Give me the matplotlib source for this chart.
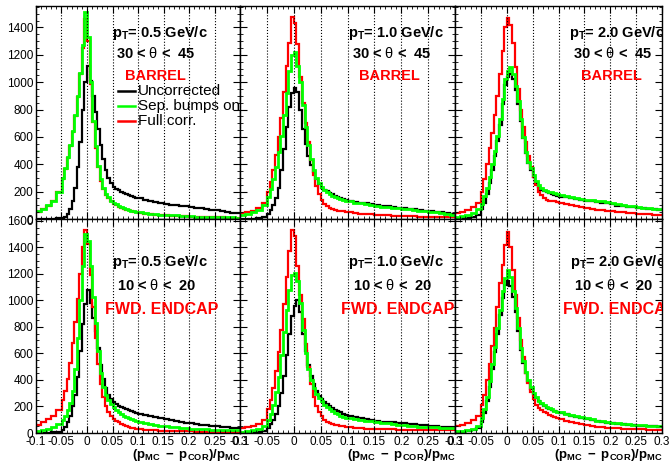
import numpy as np
import matplotlib
matplotlib.use("Agg")
import matplotlib.pyplot as plt
from matplotlib.ticker import MultipleLocator, AutoMinorLocator

plt.rcParams['font.family'] = 'Liberation Sans'
plt.rcParams['mathtext.fontset'] = 'custom'
plt.rcParams['mathtext.rm'] = 'Liberation Sans'
plt.rcParams['mathtext.it'] = 'Liberation Sans:italic'
plt.rcParams['mathtext.bf'] = 'Liberation Sans:bold'
plt.rcParams['axes.unicode_minus'] = False

# bin edges: 0.01 wide in the outer tails, 0.005 in the core
edges = np.concatenate([np.linspace(-0.1, -0.05, 6)[:-1],
                        np.linspace(-0.05, 0.1, 31)[:-1],
                        np.linspace(0.1, 0.3, 21)])

# --- BARREL, 30 < theta < 45 ---
bar05_unc = [0, 0, 1, 2, 4, 8, 18, 40, 70, 130, 230, 380, 560, 800, 1000,
             1120, 1010, 900, 780, 660, 540, 440, 360, 300, 260, 235, 222, 210, 198, 190, 182, 175, 168, 162, 156,
             150, 140, 132, 124, 116, 110, 105, 100, 96, 92, 88, 84, 78, 72, 68, 63, 58, 52, 47, 42]
bar05_sep = [55, 75, 100, 135, 200, 300, 370, 450, 540, 640, 760, 900, 1070, 1270, 1510,
             1330, 1000, 720, 530, 390, 290, 225, 185, 158, 135, 118, 106, 96, 88, 80, 74, 68, 62, 57, 53,
             48, 44, 39, 35, 32, 30, 28, 26, 24, 22, 20, 18, 17, 16, 15, 14, 13, 12, 11, 10]
bar05_full = [48, 70, 95, 130, 195, 295, 365, 445, 535, 635, 755, 895, 1060, 1250, 1460,
              1300, 990, 710, 520, 380, 280, 218, 178, 150, 128, 112, 100, 90, 82, 75, 69, 63, 58, 53, 49,
              44, 40, 36, 32, 29, 27, 25, 23, 21, 19, 17, 16, 15, 14, 13, 12, 11, 10, 9, 8]

bar10_unc = [0, 1, 2, 5, 12, 40, 65, 100, 150, 230, 360, 510, 670, 820, 920,
             960, 930, 800, 660, 550, 460, 395, 340, 295, 255, 230, 215, 202, 190, 180, 170, 162, 155, 146, 138,
             130, 124, 118, 114, 108, 102, 98, 94, 88, 82, 78, 74, 70, 66, 60, 56, 52, 48, 44, 40]
bar10_sep = [30, 38, 50, 68, 100, 160, 220, 290, 380, 490, 610, 760, 920, 1080, 1200,
             1220, 1120, 1000, 830, 670, 540, 440, 360, 300, 265, 235, 212, 195, 180, 168, 160, 152, 146, 140, 135,
             128, 120, 114, 108, 100, 94, 90, 86, 82, 78, 74, 70, 66, 62, 58, 54, 50, 44, 38, 32]
bar10_full = [44, 52, 62, 80, 120, 200, 270, 360, 470, 600, 740, 930, 1120, 1290, 1480,
              1430, 1280, 1040, 850, 700, 560, 430, 320, 240, 180, 140, 110, 95, 82, 74, 68, 62, 58, 55, 52,
              48, 44, 40, 37, 34, 31, 28, 26, 24, 22, 21, 20, 19, 18, 17, 17, 16, 15, 14, 13]

bar20_unc = [2, 6, 10, 16, 30, 70, 120, 185, 265, 360, 460, 570, 690, 840, 980,
             1040, 1060, 1020, 940, 840, 720, 590, 480, 410, 360, 310, 265, 235, 215, 202, 196, 190, 185, 178, 170,
             164, 158, 152, 146, 138, 132, 128, 124, 120, 114, 106, 98, 94, 90, 86, 82, 78, 74, 70, 67]
bar20_sep = [18, 24, 32, 45, 70, 110, 165, 230, 310, 400, 500, 610, 730, 880, 1020,
             1080, 1110, 1060, 970, 860, 730, 600, 490, 420, 370, 320, 275, 245, 225, 212, 206, 200, 195, 188, 180,
             174, 168, 162, 155, 146, 140, 136, 132, 128, 122, 114, 106, 100, 96, 92, 88, 84, 80, 76, 73]
bar20_full = [42, 52, 64, 85, 120, 200, 290, 400, 520, 630, 760, 900, 1060, 1230, 1400,
              1470, 1420, 1290, 1110, 950, 800, 670, 560, 460, 380, 310, 250, 200, 175, 155, 142, 135, 130, 128, 126,
              120, 110, 102, 95, 88, 80, 74, 68, 63, 60, 56, 52, 48, 46, 43, 40, 37, 34, 31, 28]

# --- FWD. ENDCAP, 10 < theta < 20 ---
fwd05_unc = [0, 1, 2, 4, 8, 25, 45, 80, 130, 200, 290, 420, 620, 820, 970,
             1080, 980, 870, 770, 640, 510, 410, 340, 290, 255, 235, 218, 205, 195, 186, 178, 172, 166, 160, 152,
             145, 136, 126, 118, 110, 102, 96, 90, 84, 78, 72, 66, 62, 58, 54, 50, 46, 42, 38, 35]
fwd05_sep = [18, 24, 32, 45, 65, 95, 130, 170, 225, 320, 480, 720, 1000, 1260, 1500,
             1450, 1260, 1030, 830, 620, 450, 350, 290, 250, 220, 196, 175, 155, 140, 128, 118, 110, 103, 96, 90,
             82, 74, 66, 60, 56, 52, 48, 44, 40, 36, 33, 30, 28, 27, 26, 25, 24, 23, 22, 21]
fwd05_full = [60, 85, 105, 130, 170, 250, 320, 410, 530, 680, 840, 1010, 1200, 1400, 1530,
              1430, 1190, 950, 720, 520, 370, 270, 205, 160, 130, 108, 92, 80, 70, 60, 52, 45, 40, 35, 32,
              28, 25, 23, 21, 18, 16, 15, 14, 13, 12, 12, 11, 11, 10, 10, 10, 10, 9, 9, 9]

fwd10_unc = [1, 2, 4, 8, 16, 40, 65, 95, 140, 200, 300, 430, 590, 750, 880,
             960, 1000, 910, 750, 620, 510, 430, 370, 320, 282, 258, 236, 218, 202, 188, 176, 166, 156, 146, 138,
             132, 124, 114, 108, 100, 92, 86, 82, 80, 78, 74, 70, 66, 62, 58, 54, 50, 48, 45, 43]
fwd10_sep = [10, 15, 22, 32, 50, 95, 145, 215, 310, 420, 590, 760, 930, 1080, 1190,
             1210, 1150, 980, 780, 600, 480, 400, 340, 295, 265, 240, 215, 195, 180, 165, 152, 140, 130, 122, 115,
             110, 104, 98, 93, 88, 82, 76, 72, 68, 64, 60, 56, 52, 48, 46, 44, 42, 40, 38, 36]
fwd10_full = [36, 42, 50, 65, 95, 180, 250, 340, 470, 610, 780, 970, 1180, 1370, 1530,
              1490, 1260, 1040, 860, 670, 500, 370, 270, 200, 155, 125, 100, 85, 75, 68, 62, 58, 54, 50, 46,
              42, 38, 35, 33, 31, 30, 29, 28, 27, 26, 25, 24, 24, 23, 23, 22, 22, 22, 22, 22]

fwd20_unc = [4, 8, 14, 22, 40, 85, 150, 240, 350, 480, 610, 750, 890, 1020, 1120,
             1150, 1110, 1030, 910, 770, 630, 530, 450, 390, 335, 292, 262, 238, 218, 204, 192, 182, 172, 164, 156,
             150, 140, 132, 124, 114, 106, 98, 90, 84, 78, 74, 70, 66, 62, 58, 56, 54, 52, 50, 48]
fwd20_sep = [12, 18, 24, 32, 55, 110, 180, 270, 390, 520, 650, 790, 930, 1070, 1170,
             1230, 1180, 1070, 940, 790, 640, 540, 460, 400, 345, 300, 270, 245, 225, 210, 198, 188, 178, 168, 162,
             155, 145, 138, 130, 120, 110, 102, 94, 88, 82, 78, 74, 70, 66, 62, 60, 58, 56, 54, 53]
fwd20_full = [50, 60, 75, 95, 130, 210, 290, 400, 520, 660, 790, 950, 1130, 1270, 1420,
              1520, 1400, 1230, 1040, 870, 700, 570, 450, 380, 310, 260, 215, 190, 172, 160, 148, 136, 126, 118, 112,
              102, 92, 84, 76, 68, 60, 54, 48, 44, 41, 38, 35, 33, 31, 29, 28, 27, 25, 24, 23]

pt_labels = ["0.5", "1.0", "2.0"]
row_theta = ["30 < $\\mathrm{\\theta}$ <  45", "10 < $\\mathrm{\\theta}$ <  20"]
row_region = ["BARREL", "FWD. ENDCAP"]
row_ymax = [1557, 1615]
legend_labels = ["Uncorrected", "Sep. bumps on", "Full corr."]

W, H = 670, 468
col_px = [36, 240, 455, 662]     # panel borders in pixels
row_px = [6, 219, 433]
# text anchors (pixels) per row / column
txt_x = [[112, 348, 569], [112, 348, 570]]
theta_dx = [[4, 4, 4], [5, 5, 4]]
region_dx = [[13, 11, 12], [-7, -7, -7]]
txt_y = [[33, 53, 76], [262, 285, 309]]
region_size = [10.5, 11.5]

panels = [
    [(bar05_unc, bar05_sep, bar05_full), (bar10_unc, bar10_sep, bar10_full), (bar20_unc, bar20_sep, bar20_full)],
    [(fwd05_unc, fwd05_sep, fwd05_full), (fwd10_unc, fwd10_sep, fwd10_full), (fwd20_unc, fwd20_sep, fwd20_full)],
]

fig = plt.figure(figsize=(W / 100, H / 100), dpi=100)

def fx(px):
    return px / W

def fy(py):
    return 1 - py / H

for r in range(2):
    for c in range(3):
        l, rr = col_px[c], col_px[c + 1]
        t, b = row_px[r], row_px[r + 1]
        ax = fig.add_axes([fx(l), fy(b), (rr - l) / W, (b - t) / H])
        unc, sep, full = panels[r][c]

        ax.stairs(unc, edges, color='black', lw=1.6, baseline=None)
        ax.stairs(full, edges, color='#ff0000', lw=1.6, baseline=None)
        ax.stairs(sep, edges, color='#00ff00', lw=2.0, baseline=None)

        ax.set_xlim(-0.1, 0.3)
        ax.set_ylim(0, row_ymax[r])
        ax.xaxis.set_major_locator(MultipleLocator(0.05))
        ax.xaxis.set_minor_locator(MultipleLocator(0.01))
        ax.yaxis.set_major_locator(MultipleLocator(200))
        ax.yaxis.set_minor_locator(AutoMinorLocator(4))
        ax.tick_params(which='both', direction='in', top=True, right=True, labelsize=8.5, pad=2)
        ax.tick_params(which='major', length=5, width=0.8)
        ax.tick_params(which='minor', length=2.5, width=0.6)
        ax.grid(True, axis='x', which='major', color='black', linestyle=':', lw=0.8)
        for sp in ax.spines.values():
            sp.set_linewidth(1.0)

        ax.xaxis.set_major_formatter(plt.FuncFormatter(lambda v, p: f"{v:g}" if abs(v) > 1e-9 else "0"))
        if r == 0:
            ax.tick_params(labelbottom=False)
        if c > 0:
            ax.tick_params(labelleft=False)

        # panel labels
        x0 = txt_x[r][c]
        ax.text(fx(x0), fy(txt_y[r][0]), f"$\\mathbf{{p_T}}$= {pt_labels[c]} GeV/c", transform=fig.transFigure,
                fontsize=10.5, fontweight='bold', va='center', ha='left', clip_on=True)
        ax.text(fx(x0 + theta_dx[r][c]), fy(txt_y[r][1]), row_theta[r], transform=fig.transFigure,
                fontsize=10.5, fontweight='bold', va='center', ha='left', clip_on=True)
        ax.text(fx(x0 + region_dx[r][c]), fy(txt_y[r][2]), row_region[r], transform=fig.transFigure,
                fontsize=region_size[r], fontweight='bold', color='#ff0000', va='center', ha='left', clip_on=True)

        if r == 1:
            ax.text(fx(rr + 1), fy(455), "$\\mathbf{(p_{MC}\\ -\\ p_{COR})/p_{MC}}$", transform=fig.transFigure,
                    fontsize=9.5, ha='right', va='center', clip_on=False)

        # legend, first panel only
        if r == 0 and c == 0:
            for i, (lab, col) in enumerate(zip(legend_labels, ['black', '#00ff00', '#ff0000'])):
                yy = fy(91 + 15 * i)
                ax.plot([fx(118), fx(135)], [yy, yy], color=col, lw=1.8, transform=fig.transFigure)
                ax.text(fx(138), yy, lab, transform=fig.transFigure, fontsize=11,
                        va='center', ha='left', clip_on=True)

fig.savefig("out.png", dpi=100)
